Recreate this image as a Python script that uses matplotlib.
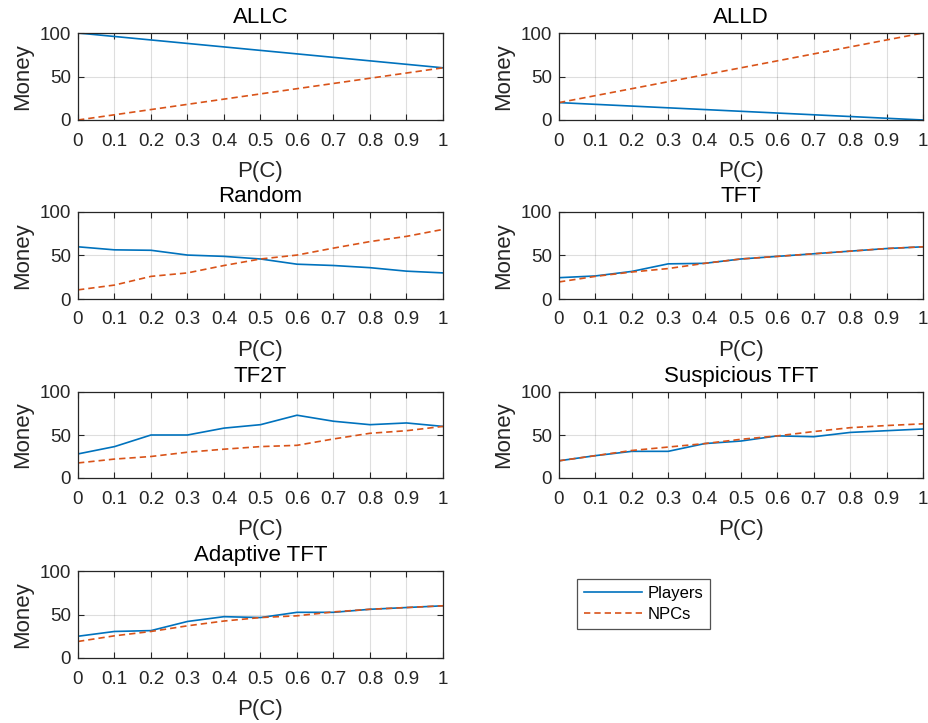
import matplotlib
matplotlib.use("Agg")
import matplotlib.pyplot as plt
import numpy as np

plt.rcParams['font.family'] = ['Liberation Sans', 'DejaVu Sans']

p_c = [0, 0.1, 0.2, 0.3, 0.4, 0.5, 0.6, 0.7, 0.8, 0.9, 1.0]
x_tick_labels = ['0', '0.1', '0.2', '0.3', '0.4', '0.5', '0.6', '0.7', '0.8', '0.9', '1']
y_ticks = [0, 50, 100]

titles = ['ALLC', 'ALLD', 'Random', 'TFT', 'TF2T', 'Suspicious TFT', 'Adaptive TFT']

allc_players = [100, 96, 92, 88, 84, 80, 76, 72, 68, 64, 60]
allc_npcs = [0, 6, 12, 18, 24, 30, 36, 42, 48, 54, 60]
alld_players = [20, 18, 16, 14, 12, 10, 8, 6, 4, 2, 0]
alld_npcs = [20, 28, 36, 44, 52, 60, 68, 76, 84, 92, 100]
random_players = [60, 56.5, 56, 50.5, 49, 46, 40, 38.5, 36, 32, 30]
random_npcs = [10.5, 16, 26, 30, 38.5, 46, 50.5, 58.5, 66, 72, 80]
tft_players = [24.5, 26.5, 31.7, 40.4, 41, 46, 49, 52, 55, 58, 60]
tft_npcs = [19.6, 26, 31, 35, 41, 46, 49, 52, 55, 58, 60]
tf2t_players = [28, 36.5, 50, 50, 58, 62, 73, 66, 62, 64, 60]
tf2t_npcs = [17.5, 22, 25, 30, 33.5, 36.5, 38, 45.4, 52, 55, 60]
stft_players = [20, 26, 31, 31, 40, 43, 49, 48, 53, 55, 57]
stft_npcs = [20, 26, 32, 36, 40, 45, 49, 54, 58.5, 61, 63]
atft_players = [25, 30.5, 31.5, 42, 47.5, 46.5, 52.5, 52.5, 56, 58, 60]
atft_npcs = [19, 25.5, 30.5, 37, 42.5, 46.5, 48.5, 53, 56, 58, 60]

players = [allc_players, alld_players, random_players, tft_players,
           tf2t_players, stft_players, atft_players]
npcs = [allc_npcs, alld_npcs, random_npcs, tft_npcs,
        tf2t_npcs, stft_npcs, atft_npcs]

W, H = 929, 723
fig = plt.figure(figsize=(W / 100, H / 100), dpi=100)

col_x = [(78, 443), (559, 923)]
row_y = [(33, 120), (212, 299), (392, 478), (571, 658)]

blue = '#0072BD'
orange = '#D95319'
axcol = '#262626'

lines = []
for i, title in enumerate(titles):
    r, c = divmod(i, 2)
    x0, x1 = col_x[c]
    y0, y1 = row_y[r]
    ax = fig.add_axes([x0 / W, 1 - y1 / H, (x1 - x0) / W, (y1 - y0) / H])
    l1, = ax.plot(p_c, players[i], color=blue, lw=1.2, label='Players')
    l2, = ax.plot(p_c, npcs[i], color=orange, lw=1.2, ls=(0, (3.8, 2.4)), label='NPCs')
    lines = [l1, l2]
    ax.set_xlim(0, 1)
    ax.set_ylim(0, 100)
    ax.set_xticks(p_c)
    ax.set_xticklabels(x_tick_labels)
    ax.set_yticks(y_ticks)
    ax.grid(True, color='#262626', alpha=0.15, lw=0.8)
    ax.tick_params(direction='in', top=True, right=True, labelsize=13.5,
                   colors=axcol, length=4, width=0.8)
    ax.tick_params(axis='x', pad=9)
    ax.tick_params(axis='y', pad=5)
    for s in ax.spines.values():
        s.set_color(axcol)
        s.set_linewidth(0.9)
    ax.set_title(title, fontsize=16, color='black', pad=7)
    ax.set_xlabel('P(C)', fontsize=16, color=axcol, labelpad=8)
    ax.set_ylabel('Money', fontsize=16, color=axcol, labelpad=5)

leg = fig.legend(lines, ['Players', 'NPCs'], loc='upper left',
                 bbox_to_anchor=(577 / W, 1 - 579 / H), borderaxespad=0,
                 fontsize=12, frameon=True, fancybox=False, handlelength=3.5,
                 handletextpad=0.35, labelspacing=0.38, borderpad=0.4)
leg.get_frame().set_edgecolor(axcol)
leg.get_frame().set_linewidth(0.9)

fig.savefig('out.png', dpi=100)
